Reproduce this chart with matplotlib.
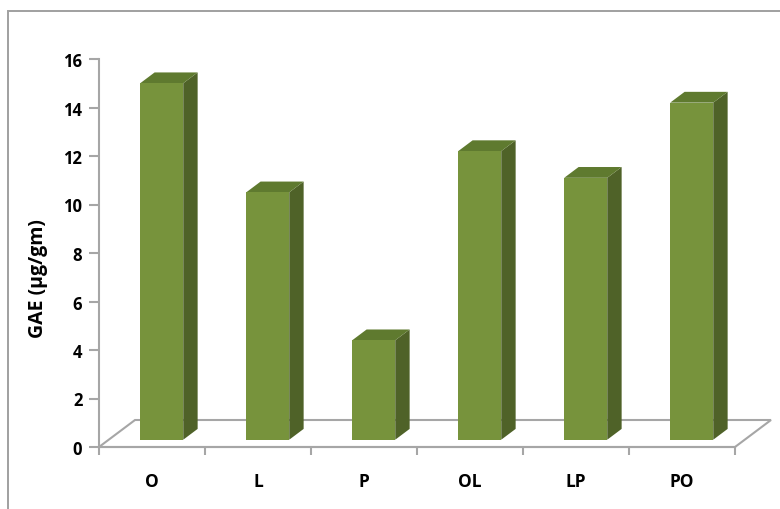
import matplotlib
matplotlib.use("Agg")
import matplotlib.pyplot as plt
from matplotlib.patches import Polygon, Rectangle

categories = ["O", "L", "P", "OL", "LP", "PO"]
gae_values = [14.7, 10.2, 4.1, 11.9, 10.8, 13.9]
y_ticks = [0, 2, 4, 6, 8, 10, 12, 14, 16]

FRONT = "#77933C"
TOP = "#5F7A2F"
SIDE = "#4F6228"
GRID = "#A6A6A6"

plt.rcParams["font.family"] = ["Open Sans", "DejaVu Sans"]

W, H = 780, 510
fig = plt.figure(figsize=(W / 100, H / 100), dpi=100)

# outer chart-area frame (left and top edges visible)
fig.patches.append(Rectangle((8 / W, -0.1), 1.2, (H - 12) / H + 0.1,
                             transform=fig.transFigure, fill=False,
                             edgecolor="#A0A0A0", linewidth=1.4))

ax = fig.add_axes([99 / W, (H - 448) / H, 636 / W, 388 / H])
n = len(categories)
ax.set_xlim(0, n)
ax.set_ylim(0, 16)
ax.set_facecolor("none")

# depth projection: one unit of depth in data units
px_per_cat = 636 / n
px_per_val = 388 / 16
sx = 36 / px_per_cat
sy = 27 / px_per_val

# floor outline
floor = Polygon([(0, 0), (n, 0), (n + sx, sy), (sx, sy)], closed=True,
                facecolor="white", edgecolor=GRID, linewidth=1.5,
                clip_on=False, zorder=1)
ax.add_patch(floor)

# bars
f0, f1 = 0.27, 0.67
bw = 0.406
ddx, ddy = sx * (f1 - f0), sy * (f1 - f0)
for i, v in enumerate(gae_values):
    c = i + 0.5
    xl = c - bw / 2 + sx * f0
    xr = xl + bw
    yb = sy * f0
    yt = yb + v
    side = Polygon([(xr, yb), (xr + ddx, yb + ddy), (xr + ddx, yt + ddy), (xr, yt)],
                   closed=True, facecolor=SIDE, edgecolor="none", clip_on=False, zorder=3)
    top = Polygon([(xl, yt), (xr, yt), (xr + ddx, yt + ddy), (xl + ddx, yt + ddy)],
                  closed=True, facecolor=TOP, edgecolor="none", clip_on=False, zorder=3)
    front = Rectangle((xl, yb), bw, v, facecolor=FRONT, edgecolor="none",
                      clip_on=False, zorder=4)
    ax.add_patch(side)
    ax.add_patch(top)
    ax.add_patch(front)

# axes styling
for s in ["top", "right"]:
    ax.spines[s].set_visible(False)
for s in ["left", "bottom"]:
    ax.spines[s].set_color(GRID)
    ax.spines[s].set_linewidth(1.5)
    ax.spines[s].set_zorder(2)

ax.set_yticks(y_ticks)
ax.set_yticklabels([str(t) for t in y_ticks], fontsize=12, fontweight="bold")
ax.tick_params(axis="y", direction="out", length=7, width=1.5, color=GRID, pad=5)

ax.set_xticks(range(n + 1))
ax.set_xticklabels([])
ax.set_xticks([i + 0.5 for i in range(n)], minor=True)
ax.set_xticklabels(categories, minor=True, fontsize=12.5, fontweight="bold")
ax.tick_params(axis="x", which="major", direction="out", length=6, width=1.5, color=GRID)
ax.tick_params(axis="x", which="minor", length=0, pad=18)

fig.text(38 / W, (H - 279) / H, "GAE (µg/gm)", rotation=90, ha="center", va="center",
         fontsize=14, fontweight="bold")

fig.savefig("out.png", dpi=100)
